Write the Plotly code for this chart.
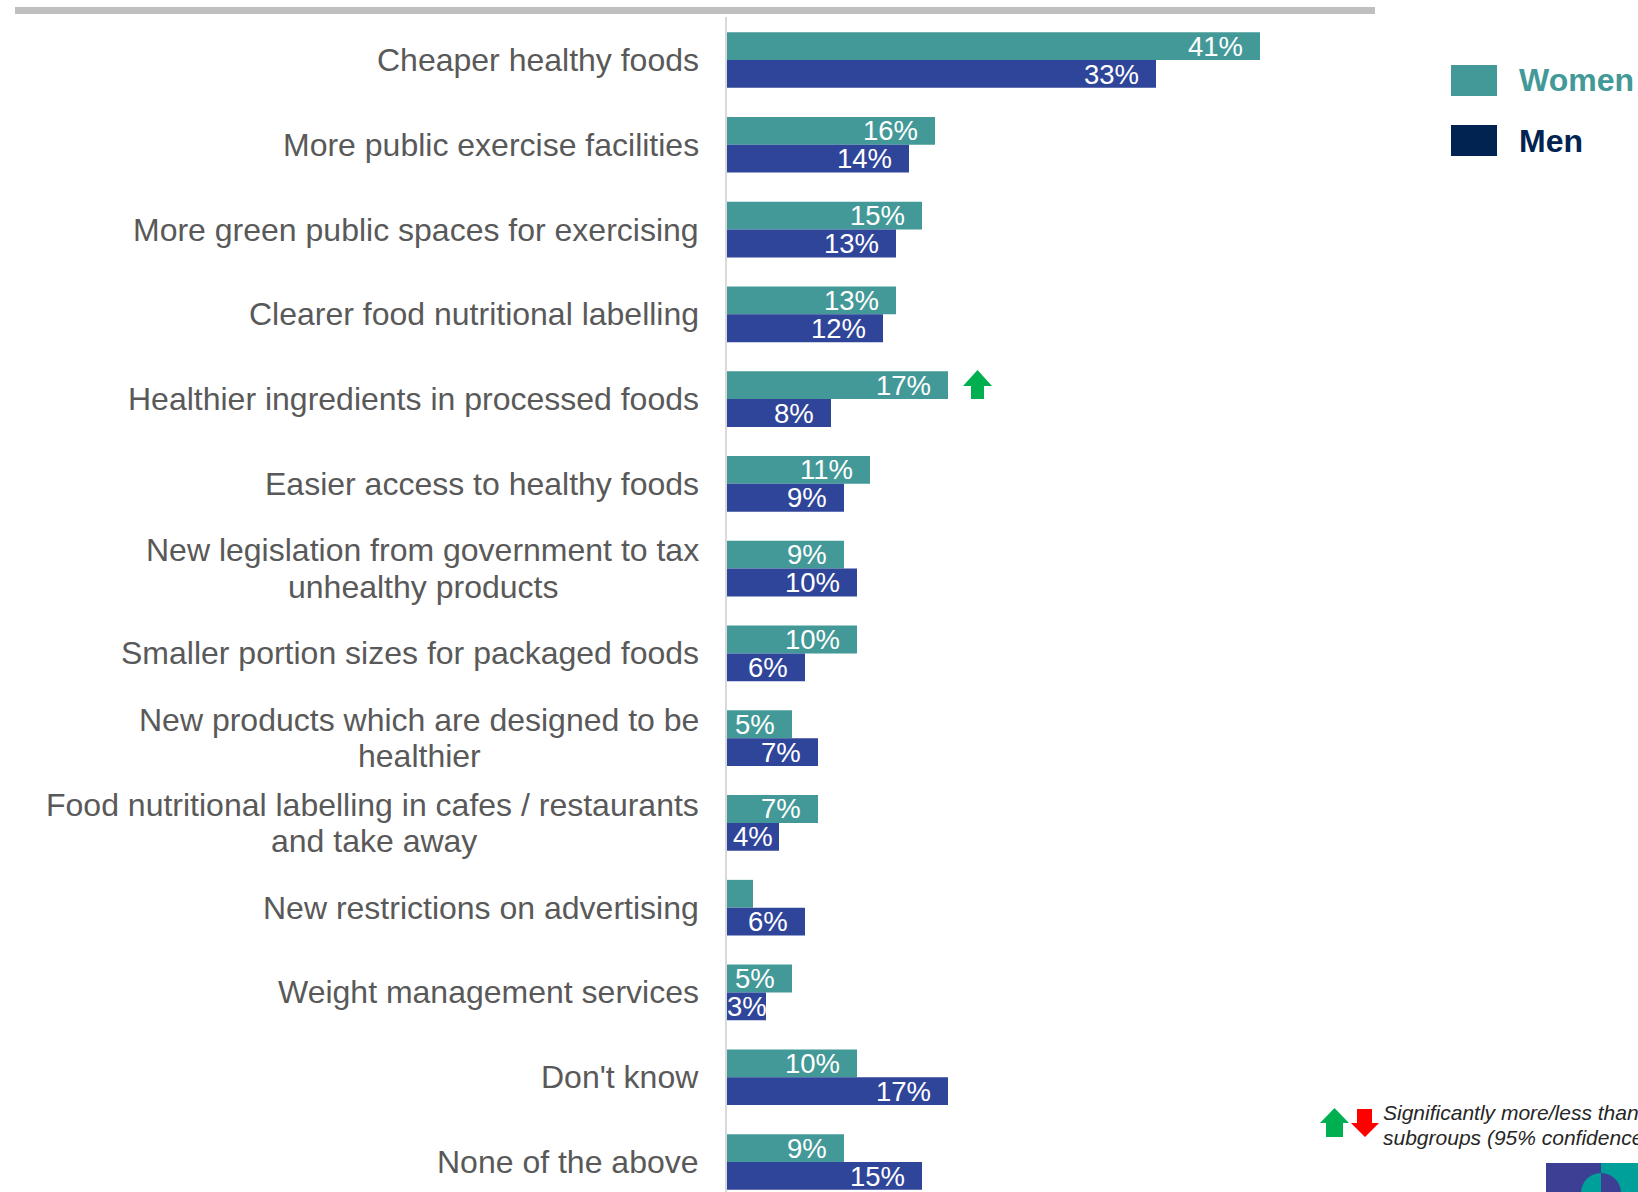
import plotly.graph_objects as go

# ---- data -------------------------------------------------------------
categories = [
    "Cheaper healthy foods",
    "More public exercise facilities",
    "More green public spaces for exercising",
    "Clearer food nutritional labelling",
    "Healthier ingredients in processed foods",
    "Easier access to healthy foods",
    "New legislation from government to tax<br>unhealthy products",
    "Smaller portion sizes for packaged foods",
    "New products which are designed to be<br>healthier",
    "Food nutritional labelling in cafes / restaurants<br>and take away",
    "New restrictions on advertising",
    "Weight management services",
    "Don't know",
    "None of the above",
]
women = [41, 16, 15, 13, 17, 11, 9, 10, 5, 7, 2, 5, 10, 9]
men = [33, 14, 13, 12, 8, 9, 10, 6, 7, 4, 6, 3, 17, 15]
women_labels = ["41%", "16%", "15%", "13%", "17%", "11%", "9%", "10%",
                "5%", "7%", "", "5%", "10%", "9%"]
men_labels = ["33%", "14%", "13%", "12%", "8%", "9%", "10%", "6%",
              "7%", "4%", "6%", "3%", "17%", "15%"]
# significance markers (women vs men)
women_sig_up = [False, False, False, False, True, False, False, False,
                False, False, False, False, False, False]
series_names = ["Women", "Men"]

# ---- styling ----------------------------------------------------------
TEAL = "#439997"
BLUE = "#2F4599"
NAVY = "#002352"
GREEN = "#00B050"
RED = "#FF0000"
LABEL_GREY = "#595959"
FONT = "Arial, Liberation Sans, sans-serif"

W, H = 1638, 1192
PLOT_L, PLOT_T = 727, 17
PX_PER_PCT = 13.0
ROW_PX = 84.77
ROW0_Y = 60
plot_w = W - PLOT_L
plot_h = H - PLOT_T

x_range = [0, plot_w / PX_PER_PCT]
y_top = -(ROW0_Y - PLOT_T) / ROW_PX
y_bottom = y_top + plot_h / ROW_PX
rows = list(range(len(categories)))

# Arial advance widths (per em) used to centre wrapped label lines
ARIAL_W = {
    "a": .556, "b": .556, "c": .5, "d": .556, "e": .556, "f": .278, "g": .556,
    "h": .556, "i": .222, "j": .222, "k": .5, "l": .222, "m": .833, "n": .556,
    "o": .556, "p": .556, "q": .556, "r": .333, "s": .5, "t": .278, "u": .556,
    "v": .5, "w": .722, "x": .5, "y": .5, "z": .5, " ": .278, "/": .278,
    "'": .191, "N": .722, "F": .611,
}


def arial_width(s, size):
    return sum(ARIAL_W.get(c, .6) for c in s) * size


def xp(px):
    return (px - PLOT_L) / plot_w


def yp(py):
    return (H - py) / plot_h


def paper_path(points):
    pts = [f"{xp(x):.5f},{yp(y):.5f}" for x, y in points]
    return "M " + " L ".join(pts) + " Z"


fig = go.Figure()
fig.add_trace(go.Bar(y=rows, x=women, orientation="h", name=series_names[0],
                     marker=dict(color=TEAL, line=dict(width=0)),
                     showlegend=False, hoverinfo="x+name"))
fig.add_trace(go.Bar(y=rows, x=men, orientation="h", name=series_names[1],
                     marker=dict(color=BLUE, line=dict(width=0)),
                     showlegend=False, hoverinfo="x+name"))

annotations = []
shapes = []

# category labels: right-aligned block, centred lines
CAT_SIZE = 32
CAT_FONT = dict(family=FONT, size=CAT_SIZE, color=LABEL_GREY)
CAT_GAP = 26
HALF_LINE = 18.3
for i, cat in enumerate(categories):
    base = dict(x=0, xref="paper", y=i, yref="y", showarrow=False,
                yanchor="middle", font=CAT_FONT)
    lines = cat.split("<br>")
    if len(lines) == 1:
        annotations.append(dict(**base, text=cat, xanchor="right", xshift=-CAT_GAP))
    else:
        first, second = lines
        w1 = arial_width(first, CAT_SIZE)
        annotations.append(dict(**base, text=first, xanchor="right",
                                xshift=-CAT_GAP, yshift=HALF_LINE))
        annotations.append(dict(**base, text=second, xanchor="center",
                                xshift=-CAT_GAP - 1 - w1 / 2, yshift=-HALF_LINE))

# value labels inside the bars
LBL_SIZE = 27.5
INSET = 15
HALF_BAR_PX = 14


def text_w(s):
    return sum(0.556 if c.isdigit() else 0.889 for c in s) * LBL_SIZE


for vals, labels, shift in ((women, women_labels, HALF_BAR_PX),
                            (men, men_labels, -HALF_BAR_PX)):
    for i, (v, lab) in enumerate(zip(vals, labels)):
        if not lab:
            continue
        if text_w(lab) + INSET > v * PX_PER_PCT:
            pos = dict(x=v / 2, xanchor="center", xshift=0)
        else:
            pos = dict(x=v, xanchor="right", xshift=-INSET)
        annotations.append(dict(
            **pos, xref="x", y=i, yref="y", yshift=shift, text=lab,
            showarrow=False, yanchor="middle",
            font=dict(family=FONT, size=LBL_SIZE, color="white")))

# significance arrows next to the women's bars
for i, (v, up) in enumerate(zip(women, women_sig_up)):
    if up:
        shapes.append(dict(
            type="path", xref="x", yref="y", xsizemode="pixel",
            ysizemode="pixel", xanchor=v, yanchor=i,
            path="M 23,0 L 36,0 L 36,13 L 44,13 L 29.5,29 L 15,13 L 23,13 Z",
            fillcolor=GREEN, line=dict(width=0)))

# grey rule across the top
shapes.append(dict(type="rect", xref="paper", yref="paper",
                   x0=xp(15), x1=xp(1375), y0=yp(14), y1=yp(7),
                   fillcolor="#BFBFBF", line=dict(width=0)))

# legend
for name, col, txt_col, top in (("Women", TEAL, TEAL, 65), ("Men", NAVY, NAVY, 125)):
    shapes.append(dict(type="rect", xref="paper", yref="paper",
                       x0=xp(1451), x1=xp(1497), y0=yp(top + 31), y1=yp(top),
                       fillcolor=col, line=dict(width=0)))
    annotations.append(dict(x=xp(1517), y=yp(top + 15.5), xref="paper", yref="paper",
                            text=f"<b>{name}</b>", showarrow=False,
                            xanchor="left", yanchor="middle",
                            font=dict(family=FONT, size=32, color=txt_col)))

# significance key
shapes.append(dict(type="path", xref="paper", yref="paper",
                   path=paper_path([(1326, 1137), (1343, 1137), (1343, 1123),
                                    (1349, 1123), (1334.5, 1108), (1320, 1123),
                                    (1326, 1123)]),
                   fillcolor=GREEN, line=dict(width=0)))
shapes.append(dict(type="path", xref="paper", yref="paper",
                   path=paper_path([(1357, 1109), (1372, 1109), (1372, 1123),
                                    (1379, 1123), (1365, 1137), (1351, 1123),
                                    (1357, 1123)]),
                   fillcolor=RED, line=dict(width=0)))
for line_txt, cy in (("Significantly more/less than other", 1112),
                     ("subgroups (95% confidence level)", 1137)):
    annotations.append(dict(x=xp(1381), y=yp(cy), xref="paper", yref="paper",
                            text=f"<i>{line_txt}</i>", showarrow=False,
                            xanchor="left", yanchor="middle",
                            font=dict(family=FONT, size=21, color="#262626")))

# corner logo block
shapes.append(dict(type="rect", xref="paper", yref="paper",
                   x0=xp(1546), x1=xp(1601), y0=yp(1195), y1=yp(1163),
                   fillcolor="#3C3F94", line=dict(width=0)))
shapes.append(dict(type="rect", xref="paper", yref="paper",
                   x0=xp(1601), x1=xp(1640), y0=yp(1195), y1=yp(1163),
                   fillcolor="#00A09A", line=dict(width=0)))
cx, cy, r = 1601, 1193, 20
k = 0.552 * r


def half_disc(sign, color):
    pts = [(cx, cy - r), (cx + sign * k, cy - r), (cx + sign * r, cy - k), (cx + sign * r, cy),
           (cx + sign * r, cy + k), (cx + sign * k, cy + r), (cx, cy + r)]
    p = [f"{xp(x):.5f},{yp(y):.5f}" for x, y in pts]
    path = f"M {p[0]} C {p[1]} {p[2]} {p[3]} C {p[4]} {p[5]} {p[6]} Z"
    return dict(type="path", xref="paper", yref="paper", path=path,
                fillcolor=color, line=dict(width=0))


shapes.append(half_disc(-1, "#00A09A"))
shapes.append(half_disc(1, "#3C3F94"))

fig.update_layout(
    width=W, height=H, autosize=False,
    margin=dict(l=PLOT_L, r=0, t=PLOT_T, b=0, pad=0),
    paper_bgcolor="white", plot_bgcolor="white",
    barmode="group", bargap=0.343, bargroupgap=0,
    xaxis=dict(range=x_range, showgrid=False, zeroline=False,
               showticklabels=False, showline=False, ticks=""),
    yaxis=dict(range=[y_bottom, y_top], showgrid=False, zeroline=False,
               showticklabels=False, showline=True, linecolor="#D9D9D9",
               linewidth=2, ticks=""),
    annotations=annotations, shapes=shapes,
    font=dict(family=FONT),
)

fig.write_html("out.html", config={"displayModeBar": False})
